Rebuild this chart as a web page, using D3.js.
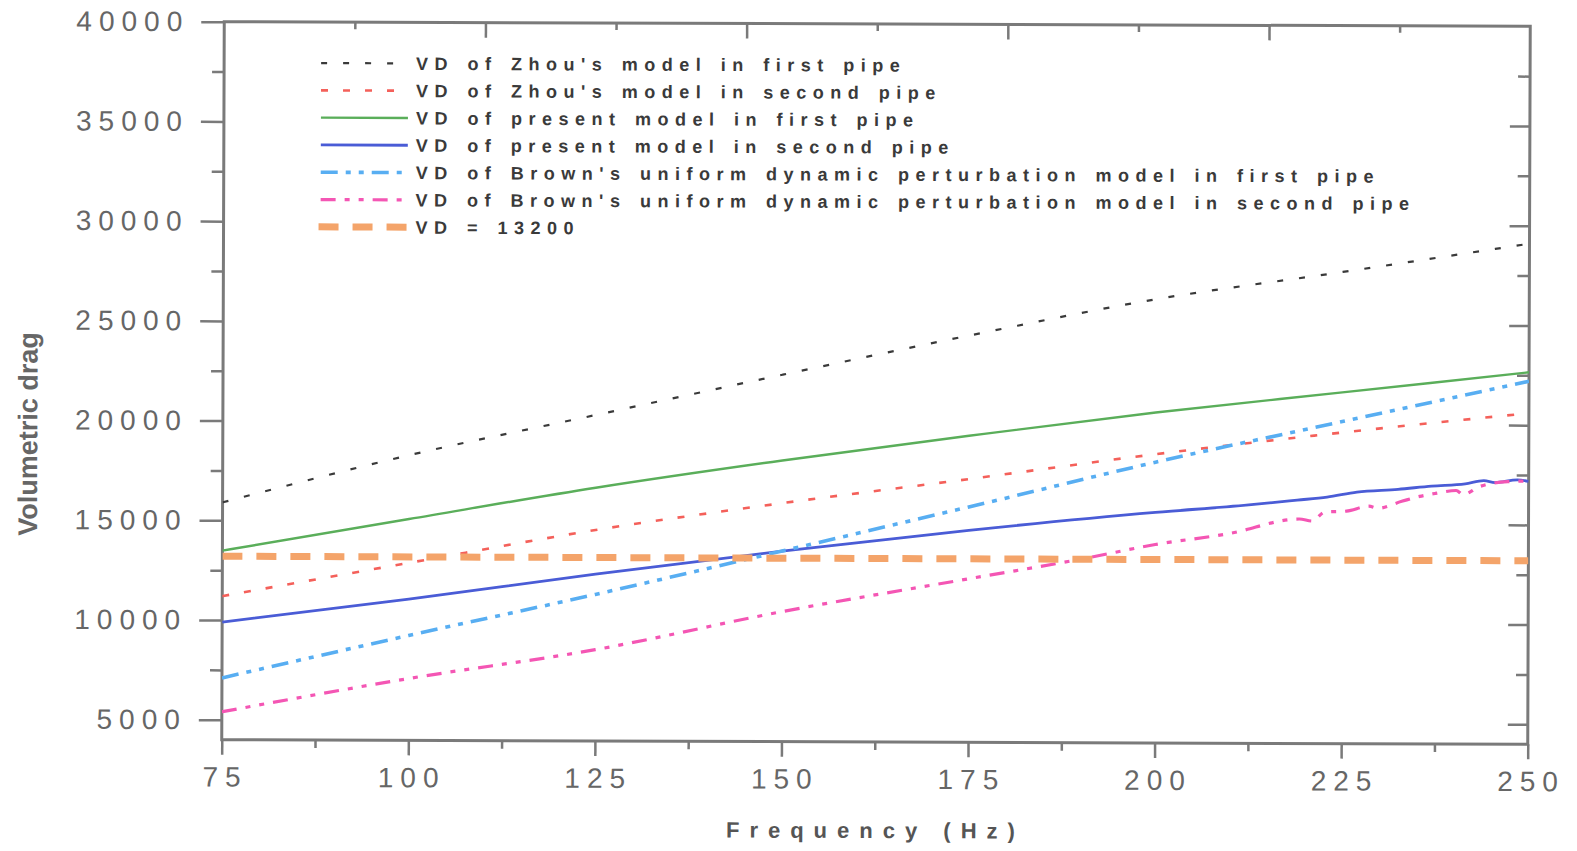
<!DOCTYPE html>
<html>
<head>
<meta charset="utf-8">
<script src="https://cdn.jsdelivr.net/npm/d3@7"></script>
<style>
  body { margin: 0; background: #fff; }
  svg { display: block; font-family: "Liberation Sans", Arial, sans-serif; }
</style>
</head>
<body>
<div id="chart"></div>
<script>
// ---- values ----
const freq = [75, 100, 125, 150, 175, 200, 225, 250];
const zhouFirst    = [15900, 18300, 20350, 22400, 24400, 26250, 27650, 29100];
const zhouSecond   = [11200, 12900, 14580, 15960, 17200, 18480, 19600, 20600];
const presentFirst = [13480, 15100, 16700, 18100, 19370, 20570, 21610, 22650];
const brownFirst   = [7100, 9260, 11350, 13560, 15800, 18080, 20150, 22200];

// these two get noisy towards the end, so they have more points
const presentSecondFreq = [75, 100, 125, 150, 175, 200, 212.5, 219, 223, 227, 232.5, 237, 241.5, 244, 245.5, 248.5, 250];
const presentSecond     = [9900, 11080, 12370, 13550, 14630, 15560, 15950, 16200, 16360, 16610, 16760, 16930, 17050, 17210, 17110, 17260, 17180];
const brownSecondFreq = [75, 100, 125, 150, 175, 190, 200, 210, 219.3, 221, 222.7, 225.6, 228.6, 229.8, 233, 235.4, 237.5, 240.3, 241.2, 243.4, 247.2, 250];
const brownSecond     = [5400, 7100, 8580, 10520, 12200, 13200, 13950, 14520, 15256, 15156, 15607, 15657, 15908, 15808, 16159, 16410, 16560, 16711, 16510, 16911, 17162, 17200];

const constFreq = [75, 250];
const constVD   = [13200, 13200];

const legendLabels = [
  "VD of Zhou's model in first pipe",
  "VD of Zhou's model in second pipe",
  "VD of present model in first pipe",
  "VD of present model in second pipe",
  "VD of Brown's uniform dynamic perturbation model in first pipe",
  "VD of Brown's uniform dynamic perturbation model in second pipe",
  "VD = 13200"
];

const xMajor = [75, 100, 125, 150, 175, 200, 225, 250];
const xMinor = [87.5, 112.5, 137.5, 162.5, 187.5, 212.5, 237.5];
const yMajor = [5000, 10000, 15000, 20000, 25000, 30000, 35000, 40000];
const yMinor = [7500, 12500, 17500, 22500, 27500, 32500, 37500];

// ---- size ----
const W = 1577, H = 851;
const margin = { top: 24, right: 48, bottom: 109, left: 223 },
      width = W - margin.left - margin.right,
      height = H - margin.top - margin.bottom;

const svg = d3.select("#chart")
  .append("svg")
    .attr("width", W)
    .attr("height", H);

// the scanned figure is skewed a little clockwise
const root = svg.append("g")
    .attr("transform", `rotate(0.2, ${margin.left + width / 2}, ${margin.top + height / 2})`);

const g = root.append("g")
    .attr("transform", `translate(${margin.left},${margin.top})`);

const x = d3.scaleLinear().domain([75, 250]).range([0, width]);
const y = d3.scaleLinear().domain([4000, 40000]).range([height, 0]);
const xTop = d3.scaleLinear().domain([0, 10]).range([0, width]);

const axisColor = "#7a7a7a";
const labelColor = "#666";

function styleAxis(sel) {
  sel.select(".domain").remove();
  sel.selectAll(".tick line").attr("stroke", axisColor).attr("stroke-width", 2.5);
  sel.selectAll(".tick text")
    .attr("fill", labelColor)
    .style("font-size", "28px")
    .style("letter-spacing", "7px");
}

// bottom
g.append("g")
  .attr("transform", `translate(0,${height})`)
  .call(d3.axisBottom(x).tickValues(xMajor).tickSize(15).tickPadding(12).tickFormat(d3.format("d")))
  .call(styleAxis)
  .selectAll(".tick text").attr("dx", "3px");
g.append("g")
  .attr("transform", `translate(0,${height})`)
  .call(d3.axisBottom(x).tickValues(xMinor).tickSize(8).tickFormat(""))
  .call(styleAxis);

// left
g.append("g")
  .call(d3.axisLeft(y).tickValues(yMajor).tickSize(23).tickPadding(12).tickFormat(d3.format("d")))
  .call(styleAxis);
g.append("g")
  .call(d3.axisLeft(y).tickValues(yMinor).tickSize(12).tickFormat(""))
  .call(styleAxis);

// right, ticks point inwards
g.append("g")
  .attr("transform", `translate(${width},0)`)
  .call(d3.axisLeft(y).tickValues(yMajor.slice(0, -1)).tickSize(20).tickFormat(""))
  .call(styleAxis);
g.append("g")
  .attr("transform", `translate(${width},0)`)
  .call(d3.axisLeft(y).tickValues(yMinor).tickSize(12).tickFormat(""))
  .call(styleAxis);

// top, ticks point inwards, ten divisions
g.append("g")
  .call(d3.axisBottom(xTop).tickValues([2, 4, 6, 8]).tickSize(15).tickFormat(""))
  .call(styleAxis);
g.append("g")
  .call(d3.axisBottom(xTop).tickValues([1, 3, 5, 7, 9]).tickSize(7).tickFormat(""))
  .call(styleAxis);

// frame
g.append("rect")
  .attr("width", width)
  .attr("height", height)
  .attr("fill", "none")
  .attr("stroke", axisColor)
  .attr("stroke-width", 3);

// axis titles
g.append("text")
  .attr("transform", `translate(${28 - margin.left},${437 - margin.top}) rotate(-90)`)
  .attr("text-anchor", "middle")
  .attr("dy", "0.35em")
  .attr("fill", labelColor)
  .style("font-size", "27px")
  .style("font-weight", "bold")
  .text("Volumetric drag");

g.append("text")
  .attr("x", 877 - margin.left)
  .attr("y", 838 - margin.top)
  .attr("text-anchor", "middle")
  .attr("fill", "#555")
  .style("font-size", "22px")
  .style("font-weight", "bold")
  .style("letter-spacing", "10px")
  .text("Frequency (Hz)");

// series
const series = [
  { f: freq, v: zhouFirst,    color: "#3a3a3a", w: 2.2, dash: "6,16" },
  { f: freq, v: zhouSecond,   color: "#f4605a", w: 2.6, dash: "7,15" },
  { f: freq, v: presentFirst, color: "#5aae5a", w: 2.4, dash: null },
  { f: presentSecondFreq, v: presentSecond, color: "#4a5cd6", w: 2.8, dash: null },
  { f: freq, v: brownFirst,   color: "#58aef2", w: 3.6, dash: "17,8,5,8,5,8" },
  { f: brownSecondFreq, v: brownSecond, color: "#f456b4", w: 3.2, dash: "15,9,5,9,5,9" },
  { f: constFreq, v: constVD, color: "#f4a46a", w: 7, dash: "20,14" }
];

g.append("clipPath").attr("id", "plot-clip")
  .append("rect").attr("width", width).attr("height", height);

const line = d3.line()
  .x(d => x(d[0]))
  .y(d => y(d[1]))
  .curve(d3.curveMonotoneX);

g.append("g")
  .attr("clip-path", "url(#plot-clip)")
  .selectAll("path")
  .data(series)
  .enter()
  .append("path")
    .attr("d", s => line(d3.zip(s.f, s.v)))
    .attr("fill", "none")
    .attr("stroke", s => s.color)
    .attr("stroke-width", s => s.w)
    .attr("stroke-dasharray", s => s.dash);

// legend
const legend = g.append("g")
  .attr("transform", `translate(${320 - margin.left},${65 - margin.top})`);

const rows = legend.selectAll("g")
  .data(series)
  .enter()
  .append("g")
    .attr("transform", (d, i) => `translate(0,${i * 27.3})`);

rows.append("line")
  .attr("x1", (d, i) => i === 6 ? -2 : 0)
  .attr("x2", 87)
  .attr("stroke", d => d.color)
  .attr("stroke-width", d => d.w)
  .attr("stroke-dasharray", d => d.dash);

rows.append("text")
  .attr("x", 95)
  .attr("dy", "0.36em")
  .attr("fill", "#3a3a3a")
  .style("font-size", "18px")
  .style("font-weight", "bold")
  .style("letter-spacing", "6.5px")
  .style("word-spacing", "2px")
  .text((d, i) => legendLabels[i]);
</script>
</body>
</html>
